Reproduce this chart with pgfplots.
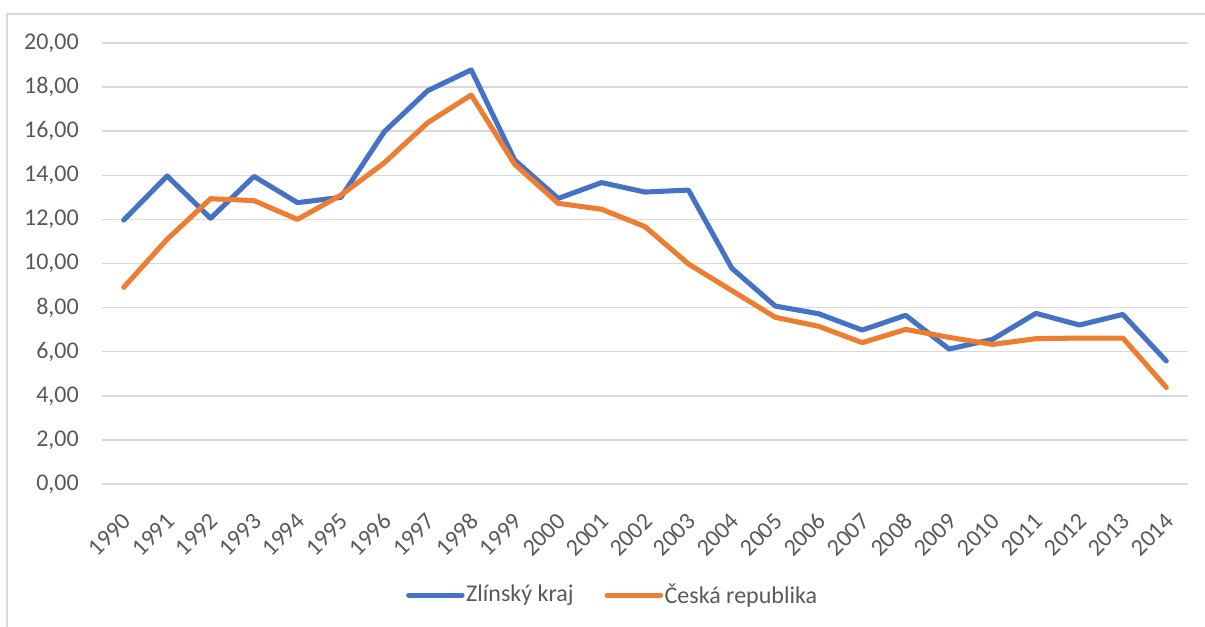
\documentclass[border=0pt]{standalone}
\usepackage{pgfplots}
\pgfplotsset{compat=1.18}
\usepackage{pgfplotstable}
\usepackage{fontspec}
\setmainfont{Carlito}

\definecolor{serblue}{HTML}{4472C4}
\definecolor{serorange}{HTML}{ED7D31}
\definecolor{gridgray}{HTML}{D9D9D9}
\definecolor{labgray}{HTML}{595959}

% year, Zlinsky kraj, Ceska republika
\pgfplotstableread{
year zlin cr
1990 11.97 8.92
1991 13.97 11.10
1992 12.05 12.94
1993 13.95 12.85
1994 12.76 12.00
1995 13.00 13.10
1996 15.98 14.57
1997 17.84 16.39
1998 18.78 17.64
1999 14.69 14.50
2000 12.95 12.73
2001 13.67 12.46
2002 13.24 11.67
2003 13.33 9.98
2004 9.78 8.77
2005 8.07 7.56
2006 7.72 7.15
2007 6.98 6.41
2008 7.65 7.01
2009 6.12 6.65
2010 6.56 6.33
2011 7.74 6.59
2012 7.21 6.62
2013 7.69 6.62
2014 5.58 4.38
}\rates

\begin{document}
\fontsize{18pt}{21pt}\selectfont
\begin{tikzpicture}
\useasboundingbox (0,0) rectangle (903.75pt,469.5pt);
% chart frame
\draw[gridgray, line width=1.1pt] (5.25pt,-2pt) -- (5.25pt,459pt) -- (905pt,459pt);

\begin{axis}[
    at={(76.5pt,106.5pt)},
    anchor=south west,
    scale only axis,
    width=814.5pt,
    height=330.75pt,
    xmin=1989.5, xmax=2014.5,
    ymin=0, ymax=20,
    xtick={1990,1991,...,2014},
    ytick={0,2,...,20},
    axis line style={draw=none},
    tick style={draw=none},
    ymajorgrids=true,
    major grid style={gridgray, line width=1.1pt},
    font=\fontsize{18pt}{21pt}\selectfont,
    ticklabel style={text=labgray, inner sep=0pt},
    xticklabel style={xshift=2.5pt, yshift=-25pt, rotate=45, anchor=east,
        /pgf/number format/assume math mode=true,
        /pgf/number format/1000 sep={}},
    yticklabel style={anchor=east, xshift=-17.25pt,
        /pgf/number format/.cd, assume math mode=true, fixed, fixed zerofill,
        precision=2, use comma},
    legend style={
        at={(axis description cs:0.47,-0.252)}, anchor=center,
        draw=none, fill=none, legend columns=2, text=labgray,
        font=\fontsize{18pt}{21pt}\selectfont,
        nodes={inner sep=1.2pt},
        /tikz/every even column/.append style={column sep=22pt}
    },
    legend image code/.code={\draw[#1, line cap=round] (0pt,0pt) -- (40pt,0pt);},
    clip=false
]
\addplot[serblue, line width=3.8pt, line cap=round, line join=round]
    table[x=year, y=zlin] {\rates};
\addlegendentry{Zlínský kraj}
\addplot[serorange, line width=3.8pt, line cap=round, line join=round]
    table[x=year, y=cr] {\rates};
\addlegendentry{Česká republika}
\end{axis}
\end{tikzpicture}
\end{document}
